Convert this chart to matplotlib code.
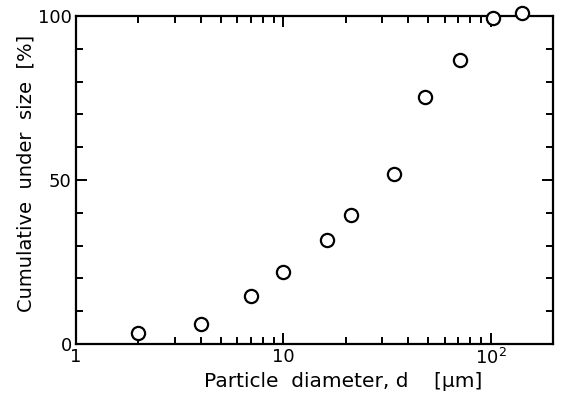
import matplotlib
matplotlib.use("Agg")
import matplotlib.pyplot as plt
from matplotlib.ticker import FixedLocator, FixedFormatter, LogLocator, NullFormatter

# particle size distribution
diameter = [2.0, 4.0, 7.0, 10.0, 16.3, 21.2, 34.4, 48.3, 71.0, 103.0, 142.0]
cumulative = [3.4, 6.1, 14.6, 22.0, 31.7, 39.3, 52.0, 75.3, 86.6, 99.4, 100.9]

x_ticks = [1, 10, 100]
x_labels = ["1", "10", "$10^2$"]
y_ticks = [0, 50, 100]
y_labels = ["0", "50", "100"]

plt.rcParams['font.family'] = ['DejaVu Sans']

fig = plt.figure(figsize=(5.62, 3.94), dpi=100)
ax = fig.add_axes([0.135, 0.127, 0.849, 0.832])

ax.plot(diameter, cumulative, linestyle="none", marker="o", markersize=9.5,
        markerfacecolor="white", markeredgecolor="black", markeredgewidth=1.6,
        clip_on=False, zorder=5)

ax.set_xscale("log")
ax.set_xlim(1, 200)
ax.set_ylim(0, 100)

ax.xaxis.set_major_locator(FixedLocator(x_ticks))
ax.xaxis.set_major_formatter(FixedFormatter(x_labels))
ax.xaxis.set_minor_locator(LogLocator(base=10, subs=range(2, 10)))
ax.xaxis.set_minor_formatter(NullFormatter())

ax.yaxis.set_major_locator(FixedLocator(y_ticks))
ax.yaxis.set_major_formatter(FixedFormatter(y_labels))
ax.yaxis.set_minor_locator(FixedLocator(range(10, 100, 10)))

ax.tick_params(which="both", direction="in", top=True, right=True, width=1.4)
ax.tick_params(which="major", length=8, labelsize=13, pad=3)
ax.tick_params(which="minor", length=5)
for s in ax.spines.values():
    s.set_linewidth(1.6)

ax.set_xlabel("Particle  diameter, d    [μm]", fontsize=14.5)
ax.set_ylabel("Cumulative  under  size  [%]", fontsize=14)
ax.xaxis.set_label_coords(0.56, -0.085)
ax.yaxis.set_label_coords(-0.085, 0.52)

fig.savefig("out.png", dpi=100)
